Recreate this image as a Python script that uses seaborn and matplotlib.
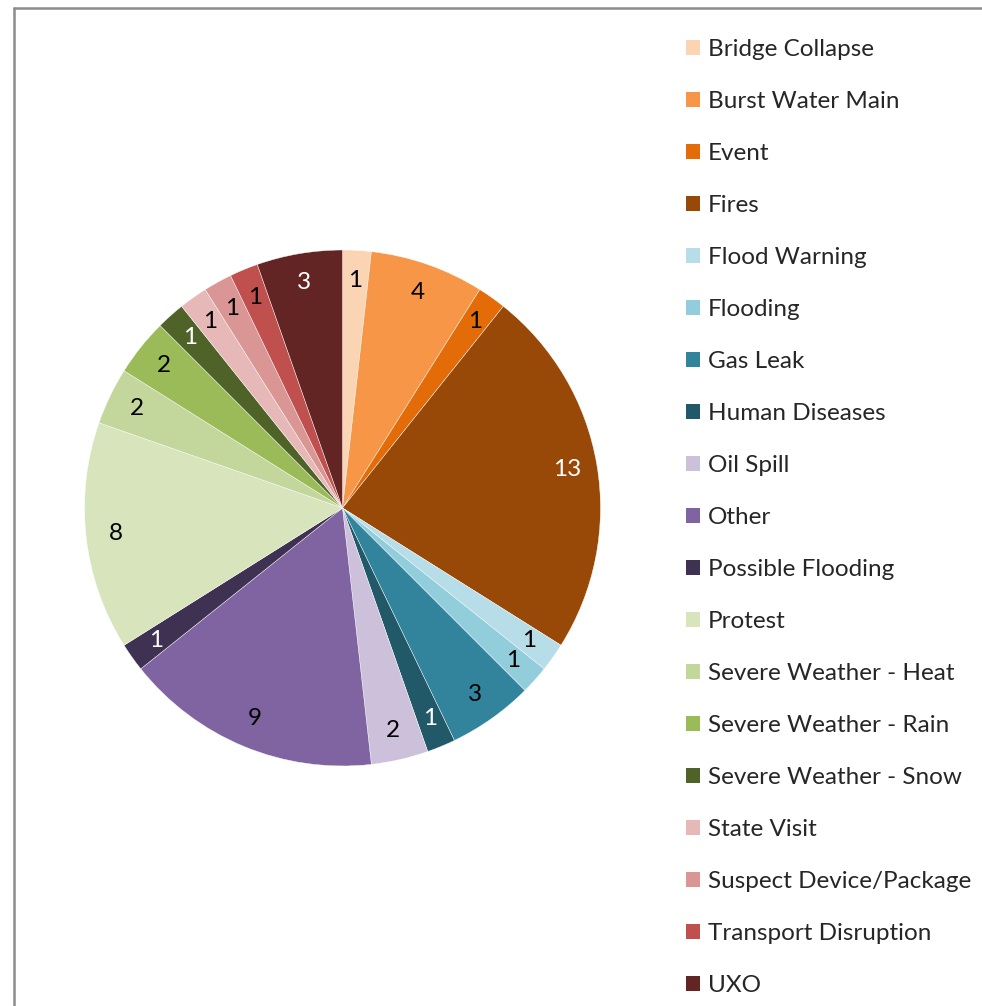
import matplotlib
matplotlib.use("Agg")
import matplotlib.pyplot as plt
from matplotlib.patches import Patch
from matplotlib.lines import Line2D
import seaborn as sns

categories = [
    "Bridge Collapse", "Burst Water Main", "Event", "Fires", "Flood Warning",
    "Flooding", "Gas Leak", "Human Diseases", "Oil Spill", "Other",
    "Possible Flooding", "Protest", "Severe Weather - Heat",
    "Severe Weather - Rain", "Severe Weather - Snow", "State Visit",
    "Suspect Device/Package", "Transport Disruption", "UXO",
]
counts = [1, 4, 1, 13, 1, 1, 3, 1, 2, 9, 1, 8, 2, 2, 1, 1, 1, 1, 3]
slice_colors = [
    "#FBD4B4", "#F79646", "#E36C09", "#984807", "#B6DDE8",
    "#92CDDC", "#31849B", "#215968", "#CCC0DA", "#8064A2",
    "#3F3151", "#D7E4BC", "#C3D69B", "#9BBB59", "#4F6228",
    "#E6B9B8", "#D99694", "#C0504D", "#632523",
]
# slices dark enough to need light label text
light_text = {"Fires", "Human Diseases", "Possible Flooding",
              "Severe Weather - Snow", "UXO"}

sns.set_theme(style="white")
plt.rcParams["font.family"] = ["Lato", "DejaVu Sans"]
palette = sns.color_palette(slice_colors)

W, H = 982, 1006
fig = plt.figure(figsize=(W / 100, H / 100), dpi=100)
fig.patch.set_facecolor("white")

cx, cy, r = 342.5, 508, 258
ax = fig.add_axes([(cx - r) / W, (H - cy - r) / H, 2 * r / W, 2 * r / H])

FS = 17.5
wedges, texts = ax.pie(
    counts, colors=palette, startangle=90, counterclock=False,
    radius=1.0, wedgeprops=dict(edgecolor="white", linewidth=0.3),
    labels=[str(c) for c in counts], labeldistance=0.885,
    textprops=dict(fontsize=FS, ha="center", va="center"),
)
for t, name in zip(texts, categories):
    t.set_color("white" if name in light_text else "black")
    t.set_ha("center")
ax.set_xlim(-1, 1)
ax.set_ylim(-1, 1)
ax.set_aspect("auto")
ax.axis("off")

handles = [Patch(facecolor=c, edgecolor="none") for c in palette]
fig.legend(
    handles, categories, loc="upper left",
    bbox_to_anchor=(674 / W, 1 - 27 / H), frameon=False,
    fontsize=FS, handlelength=0.58, handleheight=0.58,
    handletextpad=0.3, labelspacing=1.276, borderpad=0,
)

# chart-area frame (top and left edges)
frame_kw = dict(color="#8c8c8c", linewidth=1.8, transform=fig.transFigure)
fig.add_artist(Line2D([14 / W, 1], [1 - 8 / H, 1 - 8 / H], **frame_kw))
fig.add_artist(Line2D([14 / W, 14 / W], [0, 1 - 8 / H], **frame_kw))

fig.savefig("out.png", dpi=100, facecolor="white")
